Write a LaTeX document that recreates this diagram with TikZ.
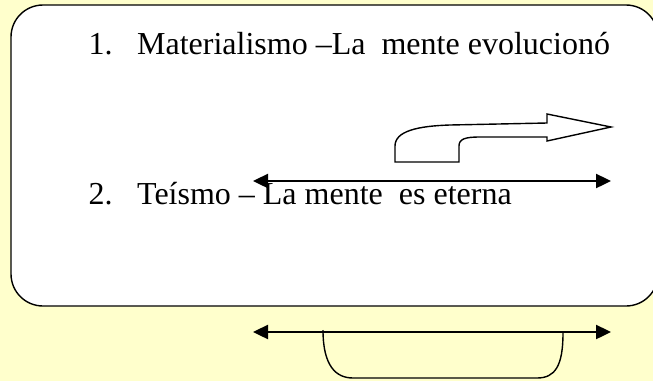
\documentclass[tikz,border=0pt]{standalone}
\usepackage{fontspec}
\setmainfont{Liberation Serif}
\usetikzlibrary{arrows.meta}
\definecolor{bgyellow}{HTML}{FFFFCC}
\tikzset{
  dblarrow/.style={line width=2.4pt,{Triangle[length=15pt,width=14pt]}-{Triangle[length=15pt,width=14pt]}},
  outline/.style={line width=1.4pt,line join=miter},
  itemtext/.style={anchor=base west,inner sep=0pt,font=\fontsize{32}{38}\selectfont}
}
\begin{document}
\begin{tikzpicture}[x=1pt,y=-1pt]
\useasboundingbox (0,0) rectangle (653,381);
\fill[bgyellow] (0,0) rectangle (653,381);
\draw[outline,fill=white,rounded corners=32pt] (11,5) rectangle (658,306);
\node[itemtext] (t1) at (88.5,54) {\makebox[48.5pt][l]{1.}Materialismo –La\ \ mente evolucionó};
\node[itemtext] (t2) at (88.5,204) {\makebox[48.5pt][l]{2.}Teísmo – La mente\ \ es eterna};
% bent block arrow
\draw[outline,fill=white] (395,162) -- (395,146) .. controls (395,131) and (418,126) .. (450,125) -- (547,123) -- (547,114) -- (611,127) -- (547,141) -- (547,137) -- (480,137) .. controls (465,137) and (459,139) .. (459,146) -- (459,162) -- cycle;
% double arrows
\coordinate (a1l) at (253,181);
\coordinate (a1r) at (611,181);
\draw[dblarrow] (a1l) -- (a1r);
\coordinate (a2l) at (253,332);
\coordinate (a2r) at (611,332);
\draw[line width=1.4pt] (323,330) .. controls (323,366) and (336,378) .. (353,378) -- (537,378) .. controls (555,378) and (563,366) .. (563,333);
\draw[dblarrow] (a2l) -- (a2r);
\end{tikzpicture}
\end{document}
